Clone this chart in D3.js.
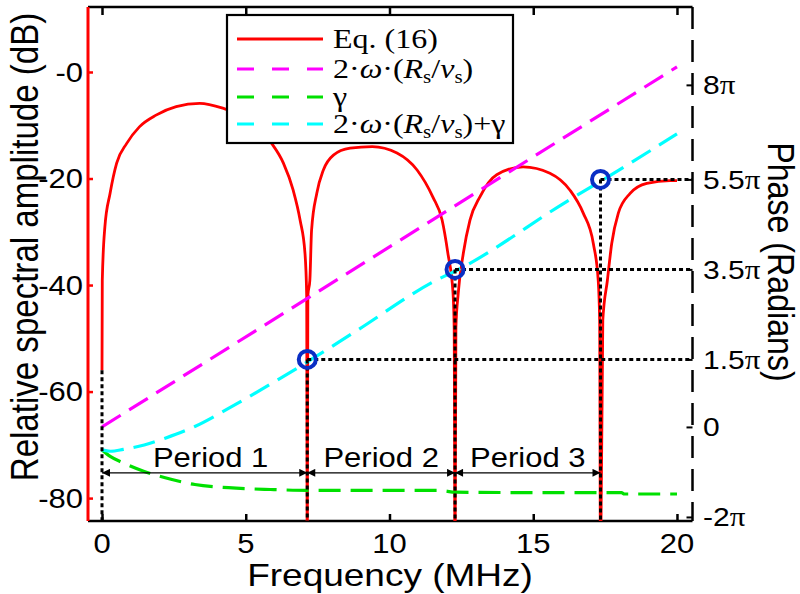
<!DOCTYPE html>
<html><head><meta charset="utf-8">
<script src="https://cdn.jsdelivr.net/npm/d3@7/dist/d3.min.js"></script>
<style>body{margin:0;background:#fff}</style>
</head><body>
<svg id="c" width="800" height="594"></svg>
<script>
// ---------- data ----------
const freqEq16 = [0,0.01,0.10,0.28,0.51,0.86,1.30,1.88,2.58,3.40,4.20,5.0,5.5,5.90,6.31,6.65,6.89,7.06,7.12,7.14,7.16,7.23,7.29,7.47,7.70,8.05,8.63,9.40,10.26,10.96,11.51,11.83,12.03,12.21,12.25,12.28,12.31,12.39,12.57,12.80,13.15,13.73,14.65,15.58,16.28,16.74,17.09,17.26,17.31,17.34,17.42,17.58,17.73,17.96,18.37,18.95,19.76,20.0];
const ampEq16  = [-56,-39.1,-29.1,-22.8,-17.1,-13.4,-10.3,-8.1,-6.5,-5.9,-6.8,-8.6,-10.8,-13.4,-17.1,-22.2,-27.8,-34.0,-42,-95,-42,-39.1,-29.7,-22.8,-18.4,-15.6,-14.3,-14.0,-15.2,-18.4,-23.5,-27.8,-34.0,-41.5,-48,-95,-48,-41.6,-34.0,-27.8,-23.4,-19.3,-17.8,-19.0,-22.2,-26.5,-32.2,-39.1,-46.6,-95,-46.6,-39.1,-32.2,-26.5,-22.8,-20.9,-20.4,-20.4];
const freqOmega = [0,20];
const phaseOmega = [0,8];                       // in units of pi
const freqGamma = [0,0.3,0.74,1.47,2.20,3.23,4.40,5.86,7.18,8.79,11.72,12.31,16.12,18.07,18.17,20];
const phaseGamma = [-0.51,-0.66,-0.80,-0.99,-1.13,-1.28,-1.35,-1.39,-1.41,-1.41,-1.41,-1.45,-1.46,-1.46,-1.49,-1.49];
const freqSum = [0,0.3,0.74,1.47,2.20,3.23,4.40,5.86,7.18,8.79,11.72,12.31,16.12,18.17,20];
const phaseSum = [-0.51,-0.54,-0.50,-0.40,-0.25,0.01,0.41,0.95,1.46,2.11,3.29,3.47,4.99,5.78,6.51];
const valleyFreq = [7.14,12.28,17.34];
const valleyPhase = [1.5,3.5,5.5];
const startFreq = 0, startAmp = -56;
const periodBounds = [0,7.14,12.28,17.34];
const periodLabels = ["Period 1","Period 2","Period 3"];
const xTicks = [0,5,10,15,20];
const yLeftTicks = [0,-20,-40,-60,-80];
const yLeftLabels = ["-0","-20","-40","-60","-80"];
const yRightTicks = [-2,0,1.5,3.5,5.5,7.6];
const yRightNums = ["-2","0","1.5","3.5","5.5","8"];
const legendNames = ["Eq. (16)","omega","gamma","sum"];

// ---------- setup ----------
const SANS = "'Liberation Sans', Arial, sans-serif";
const SERIF = "'Liberation Serif', 'Times New Roman', serif";
const K = 0.87;       // vertical squash of text as in the reference
const svg = d3.select("#c");
const L = 88, R = 692.5, T = 7, B = 521;
const x = d3.scaleLinear().domain([-0.487,20.54]).range([L,R]);
const yL = d3.scaleLinear().domain([-84.3,12.2]).range([B,T]);
const yR = d3.scaleLinear().domain([-2.09,9.33]).range([B,T]);
const PERIOD_Y = yR(-1.02);

svg.append("defs").append("clipPath").attr("id","clip")
  .append("rect").attr("x",L).attr("y",T).attr("width",R-L).attr("height",B-T);
const defs = svg.select("defs");
defs.append("marker").attr("id","arr").attr("viewBox","0 0 10 10")
  .attr("refX",10).attr("refY",5).attr("markerUnits","userSpaceOnUse")
  .attr("markerWidth",9).attr("markerHeight",8).attr("orient","auto-start-reverse")
  .append("path").attr("d","M0,0L10,5L0,10z").attr("fill","#000");

function label(g, px, py, size, anchor, rot, family){
  return g.append("text")
    .attr("transform",`translate(${px},${py}) scale(1,${K}) rotate(${rot||0})`)
    .attr("text-anchor",anchor).attr("font-size",size)
    .attr("font-family",family||SANS).attr("fill","#000");
}

// ---------- axes frames ----------
const gTop = svg.append("g").attr("transform",`translate(0,${T})`)
  .call(d3.axisTop(x).tickValues(xTicks).tickSize(-8).tickFormat(""));
gTop.select(".domain").attr("d",`M${L},0H${R}`).attr("stroke-width",2.5);
gTop.selectAll(".tick line").attr("stroke-width",2.5);

const gBot = svg.append("g").attr("transform",`translate(0,${B})`)
  .call(d3.axisBottom(x).tickValues(xTicks).tickSize(-7).tickFormat(""));
gBot.select(".domain").attr("d",`M${L},0H${R}`).attr("stroke-width",2.5);
gBot.selectAll(".tick line").attr("stroke-width",2.5);
xTicks.forEach(v=>{
  label(svg, x(v), 553, 31, "middle").text(v);
});

const gL = svg.append("g").attr("transform",`translate(${L},0)`)
  .call(d3.axisLeft(yL).tickValues(yLeftTicks).tickSize(-5).tickFormat(""));
gL.select(".domain").attr("d",`M0,${T}V${B}`).attr("stroke","#ff0000").attr("stroke-width",3);
gL.selectAll(".tick line").attr("stroke","#ff0000").attr("stroke-width",2.5);
yLeftTicks.forEach((v,i)=>{
  label(svg, 83, yL(v), 31, "end").attr("dy","0.36em").text(yLeftLabels[i]);
});

const gR = svg.append("g").attr("transform",`translate(${R},0)`)
  .call(d3.axisRight(yR).tickValues(yRightTicks).tickSize(-6).tickFormat(""));
gR.select(".domain").attr("d",`M0,${T}V${B}`).attr("stroke-width",2.5).attr("stroke-dasharray","22,11");
gR.selectAll(".tick line").attr("stroke-width",2);
yRightTicks.forEach((v,i)=>{
  const t = label(svg, 703, yR(v), 30, "start").attr("dy","0.36em");
  t.append("tspan").text(yRightNums[i]);
  if (yRightNums[i] !== "0") t.append("tspan").attr("font-family",SERIF).attr("font-size",31).text("π");
});

label(svg, 25, 247, 38, "middle", -90).attr("dy","0.35em").text("Relative spectral amplitude (dB)");
label(svg, 390, 586, 37, "middle").text("Frequency (MHz)");
label(svg, 781, 262, 37, "middle", 90).attr("dy","0.35em").text("Phase (Radians)");

// ---------- plot content ----------
const plot = svg.append("g").attr("clip-path","url(#clip)");
const redData = freqEq16.map((f,i)=>[f,ampEq16[i]]);
plot.append("path").datum(redData)
  .attr("d", d3.line().x(d=>x(d[0])).y(d=>yL(d[1])).curve(d3.curveMonotoneX))
  .attr("fill","none").attr("stroke","#ff0000").attr("stroke-width",2.8);

const lineR = d3.line().x(d=>x(d[0])).y(d=>yR(d[1]));
plot.append("path").datum(freqOmega.map((f,i)=>[f,phaseOmega[i]]))
  .attr("d", lineR).attr("fill","none").attr("stroke","#ff00ff").attr("stroke-width",3.2).attr("stroke-dasharray","22,10");
plot.append("path").datum(freqGamma.map((f,i)=>[f,phaseGamma[i]]))
  .attr("d", lineR.curve(d3.curveMonotoneX)).attr("fill","none").attr("stroke","#00e000").attr("stroke-width",3.2).attr("stroke-dasharray","22,10");
plot.append("path").datum(freqSum.map((f,i)=>[f,phaseSum[i]]))
  .attr("d", lineR.curve(d3.curveMonotoneX)).attr("fill","none").attr("stroke","#00ffff").attr("stroke-width",3.2).attr("stroke-dasharray","22,10");

function dotted(x1,y1,x2,y2){
  plot.append("line").attr("x1",x1).attr("y1",y1).attr("x2",x2).attr("y2",y2)
    .attr("stroke","#000").attr("stroke-width",3).attr("stroke-dasharray","4,3");
}
dotted(x(startFreq), yL(startAmp), x(startFreq), B);
valleyFreq.forEach((f,i)=>{
  dotted(x(f), yR(valleyPhase[i]), x(f), B);
  dotted(x(f), yR(valleyPhase[i]), R, yR(valleyPhase[i]));
});
valleyFreq.forEach((f,i)=>{
  plot.append("circle").attr("cx",x(f)).attr("cy",yR(valleyPhase[i])).attr("r",8.5)
    .attr("fill","none").attr("stroke","#0a2ec4").attr("stroke-width",4);
});

periodLabels.forEach((name,i)=>{
  const a = x(periodBounds[i]), b = x(periodBounds[i+1]);
  svg.append("line").attr("x1",a).attr("x2",b).attr("y1",PERIOD_Y).attr("y2",PERIOD_Y)
    .attr("stroke","#000").attr("stroke-width",1.2)
    .attr("marker-start","url(#arr)").attr("marker-end","url(#arr)");
  label(svg, (a+b)/2 + (i===0?6:0), PERIOD_Y-6, 31, "middle").text(name);
});

// ---------- legend ----------
const lg = svg.append("g");
lg.append("rect").attr("x",227).attr("y",15).attr("width",286).attr("height",128)
  .attr("fill","#fff").attr("stroke","#000").attr("stroke-width",2.2);
const rowsY = [39,69,97,124];
const styles = [
  {c:"#ff0000",d:null},{c:"#ff00ff",d:"17,18"},{c:"#00e000",d:"17,18"},{c:"#00ffff",d:"17,18"}
];
legendNames.forEach((n,i)=>{
  const ln = lg.append("line").attr("x1",237).attr("x2",323).attr("y1",rowsY[i]).attr("y2",rowsY[i])
    .attr("stroke",styles[i].c).attr("stroke-width",3);
  if (styles[i].d) ln.attr("stroke-dasharray",styles[i].d);
  const t = label(lg, 333, rowsY[i], 32, "start", 0, SERIF).attr("dy","0.33em");
  if (n==="Eq. (16)") { t.text("Eq. (16)"); return; }
  if (n==="gamma") { t.text("γ"); return; }
  t.append("tspan").text("2·");
  t.append("tspan").attr("font-style","italic").text("ω");
  t.append("tspan").text("·(");
  t.append("tspan").attr("font-style","italic").text("R");
  t.append("tspan").attr("font-size",21).attr("dy",6).text("s");
  t.append("tspan").attr("dy",-6).text("/");
  t.append("tspan").attr("font-style","italic").text("v");
  t.append("tspan").attr("font-size",21).attr("dy",6).text("s");
  t.append("tspan").attr("dy",-6).text(")");
  if (n==="sum") t.append("tspan").text("+γ");
});
</script>
</body></html>
